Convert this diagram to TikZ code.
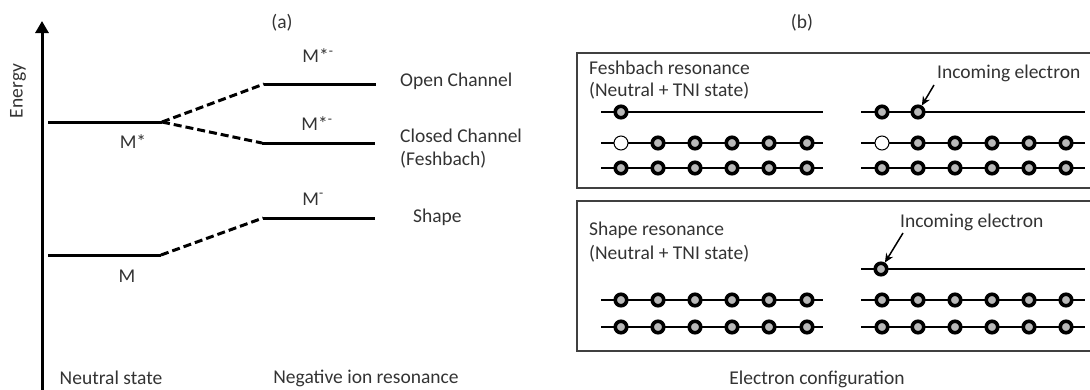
\documentclass[tikz,border=0pt]{standalone}
\usepackage{fontspec}
\setmainfont{Carlito}
\usetikzlibrary{arrows.meta}
\begin{document}
\begin{tikzpicture}[x=1pt,y=-1pt,
  txt/.style={font=\fontsize{19.5}{23}\selectfont, text=black!80, inner sep=0pt},
  level/.style={line width=3pt},
  trans/.style={line width=3pt, dash pattern=on 8pt off 4pt},
  orb/.style={line width=2.5pt},
  el/.style={circle, draw=black, line width=3.6pt, fill=black!28, minimum size=11.5pt, inner sep=0pt},
  hole/.style={circle, draw=black, line width=1pt, fill=white, minimum size=14pt, inner sep=0pt},
  frame/.style={draw=black!75, line width=1.5pt},
  ptr/.style={-{Stealth[length=9pt,width=8pt]}, line width=1.5pt}
]
\useasboundingbox (0,0) rectangle (1090,389);

% ---------- (a) energy diagram ----------
\coordinate (ab) at (42,392);
\coordinate (at) at (42,21);
\draw[line width=3pt,-{Triangle[length=12pt,width=13pt]}] (ab) -- (at);
\node[txt,rotate=90] (energy) at (18,91) {Energy};

\coordinate (mstarL) at (48,122);  \coordinate (mstarR) at (162,122);
\coordinate (openL) at (264,84);   \coordinate (openR) at (376,84);
\coordinate (closL) at (262,143);  \coordinate (closR) at (375,143);
\coordinate (mL) at (48,255);      \coordinate (mR) at (161,255);
\coordinate (shL) at (263,218);    \coordinate (shR) at (375,218);

\draw[level] (mstarL) -- (mstarR);
\draw[level] (openL) -- (openR);
\draw[level] (closL) -- (closR);
\draw[level] (mL) -- (mR);
\draw[level] (shL) -- (shR);
\draw[trans] (mstarR) -- (openL);
\draw[trans] (mstarR) -- (closL);
\draw[trans] (mR) -- (shL);

\node[txt] (lmstar) at (133,142) {M*};
\node[txt] (lopen) at (318,56) {M*\textsuperscript{-}};
\node[txt] (lclos) at (317,124) {M*\textsuperscript{-}};
\node[txt] (lm) at (127,276) {M};
\node[txt] (lshape) at (313,199) {M\textsuperscript{-}};
\node[txt,anchor=west] (topen) at (400,81) {Open Channel};
\node[txt,anchor=west] (tclos) at (400,136) {Closed Channel};
\node[txt,anchor=west] (tfesh) at (400,160) {(Feshbach)};
\node[txt,anchor=west] (tshape) at (413,217) {Shape};
\node[txt] (capa) at (282,23) {(a)};
\node[txt] (tneut) at (111,378) {Neutral state};
\node[txt] (tneg) at (366,378) {Negative ion resonance};

% ---------- (b) electron configuration ----------
\node[txt] (capb) at (802,23) {(b)};
\node[txt] (tconf) at (817,379) {Electron configuration};

\draw[frame] (577,53) rectangle (1095,188);
\draw[frame] (577,201) rectangle (1095,351);

\node[txt,anchor=west] (f1) at (589,68) {Feshbach resonance};
\node[txt,anchor=west] (f2) at (589,91) {(Neutral + TNI state)};
\node[txt,anchor=west] (s1t) at (589,230) {Shape resonance};
\node[txt,anchor=west] (s2t) at (589,254) {(Neutral + TNI state)};

% orbital lines
\foreach \y in {112,143,168,300,327}{
  \draw[orb] (601,\y) -- (823,\y);
}
\foreach \y in {112,143,168,269,300,327}{
  \draw[orb] (861,\y) -- (1085,\y);
}

% Feshbach box
\node[el] (fa1) at (621,112) {};
\node[el] (fb1) at (882,112) {};
\node[el] (fb2) at (918,112) {};
\node[hole] (fah) at (621,143) {};
\node[hole] (fbh) at (882,143) {};
\foreach \x [count=\i] in {658,695,732,769,807}{
  \node[el] (fa2\i) at (\x,143) {};
}
\foreach \x [count=\i] in {918,955,992,1029,1066}{
  \node[el] (fb2\i) at (\x,143) {};
}
\foreach \x [count=\i] in {621,658,695,732,769,807}{
  \node[el] (fa3\i) at (\x,168) {};
}
\foreach \x [count=\i] in {882,918,955,992,1029,1066}{
  \node[el] (fb3\i) at (\x,168) {};
}

% Shape box
\node[el] (sb1) at (881,269) {};
\foreach \y/\r in {300/2,327/3}{
  \foreach \x [count=\i] in {621,658,695,732,769,807}{
    \node[el] (sa\r\i) at (\x,\y) {};
  }
  \foreach \x [count=\i] in {882,918,955,992,1029,1066}{
    \node[el] (sb\r\i) at (\x,\y) {};
  }
}

% incoming electrons
\node[txt,anchor=west] (inc1) at (937,73) {Incoming electron};
\coordinate (p1) at (934,85);
\draw[ptr] (p1) -- (fb2);
\node[txt,anchor=west] (inc2) at (900,222) {Incoming electron};
\coordinate (p2) at (903,233);
\draw[ptr] (p2) -- (sb1);
\end{tikzpicture}
\end{document}
